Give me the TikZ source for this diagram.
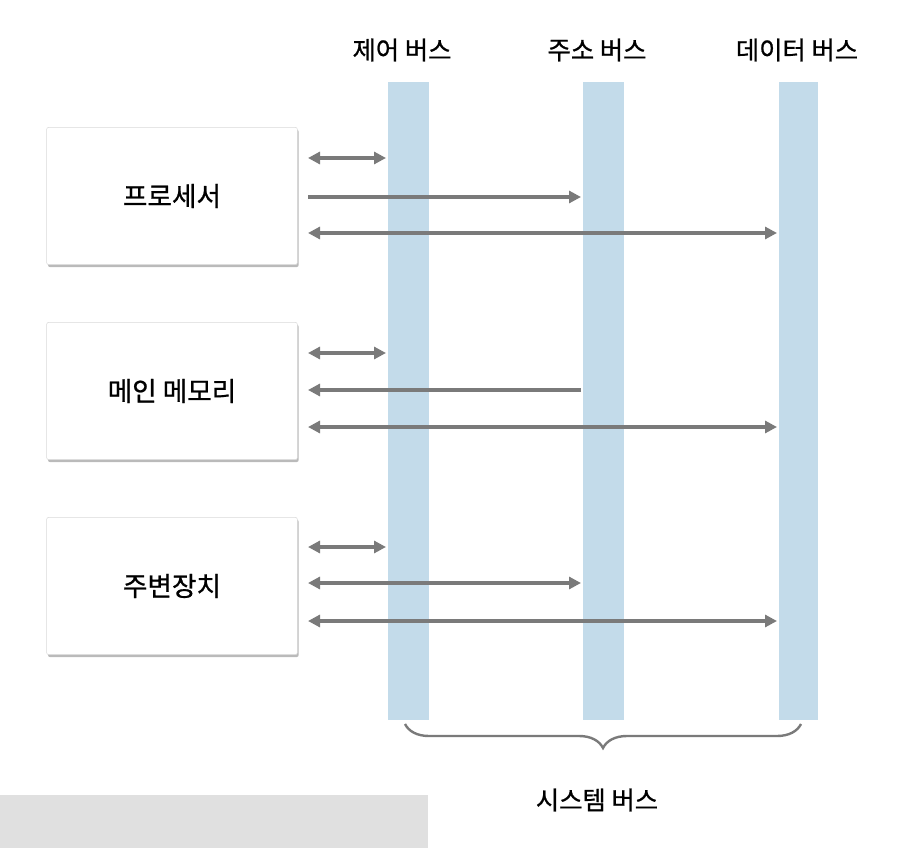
\documentclass[tikz,border=0pt]{standalone}
\usepackage{fontspec}
\setmainfont{Noto Sans CJK KR}[FakeBold=0.8]
\usetikzlibrary{shadows,arrows.meta,decorations.pathreplacing}
\definecolor{barc}{HTML}{C3DBEA}
\definecolor{arc}{HTML}{7A7A7A}
\begin{document}
\begin{tikzpicture}[x=0.75pt,y=-0.75pt,
  unit/.style={draw=black!15,fill=white,rounded corners=1.5pt,drop shadow={shadow xshift=1pt,shadow yshift=-1.8pt,opacity=0.45,fill=black!60},minimum width=188pt,minimum height=103pt,inner sep=0,font=\fontsize{20}{24}\selectfont},
  lbl/.style={font=\fontsize{19}{23}\selectfont},
  bus/.style={fill=barc,draw=none},
  ar/.style={draw=arc,line width=2.4pt,-{Triangle[length=9pt,width=9pt]}},
  br/.style={draw=arc,line width=2.4pt,{Triangle[length=9pt,width=9pt]}-{Triangle[length=9pt,width=9pt]}}]
\useasboundingbox (0,0) rectangle (924,848);
\fill[black!12] (0,795) rectangle (428,848);
\fill[bus] (388,82) rectangle (429,720);
\fill[bus] (583,82) rectangle (624,720);
\fill[bus] (779,82) rectangle (818,720);
\node[lbl] (lc) at (402,50) {제어 버스};
\node[lbl] (la) at (597,50) {주소 버스};
\node[lbl] (ld) at (797,50) {데이터 버스};
\node[unit] (p) at (172,196) {프로세서};
\node[unit] (m) at (172,391) {메인 메모리};
\node[unit] (e) at (172,586) {주변장치};
\foreach \n/\y in {p/158,m/353,e/547}{
  \coordinate (s\n) at (308,\y);
  \coordinate (t\n) at (386,\y);
  \draw[br] (s\n) -- (t\n);}
\coordinate (p1) at (308,197); \coordinate (p2) at (581,197);
\draw[ar] (p1) -- (p2);
\coordinate (m1) at (581,390); \coordinate (m2) at (308,390);
\draw[ar] (m1) -- (m2);
\coordinate (e1) at (308,583); \coordinate (e2) at (581,583);
\draw[br] (e1) -- (e2);
\foreach \n/\y in {p/233,m/427,e/621}{
  \coordinate (u\n) at (308,\y);
  \coordinate (v\n) at (777,\y);
  \draw[br] (u\n) -- (v\n);}
\coordinate (b1) at (405,724); \coordinate (b2) at (801,724);
\draw[arc,line width=1.8pt,decorate,decoration={brace,mirror,amplitude=18pt}] (b1) -- (b2);
\node[lbl] (sys) at (597,800) {시스템 버스};
\end{tikzpicture}
\end{document}
